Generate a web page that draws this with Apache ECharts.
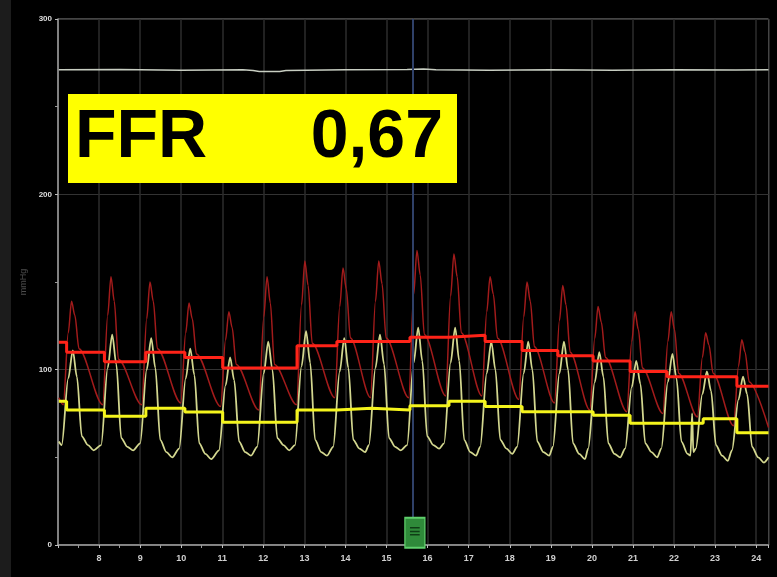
<!DOCTYPE html>
<html>
<head>
<meta charset="utf-8">
<script src="https://cdn.jsdelivr.net/npm/echarts/dist/echarts.min.js"></script>
<style>
  html, body { margin: 0; padding: 0; background: #000; }
  #chart { width: 777px; height: 577px; }
</style>
</head>
<body>
<div id="chart"></div>
<script>
// Pressure recording (mmHg over seconds): aortic (Pa) and distal (Pd) traces,
// their beat-by-beat means, and a flat reference channel at the top.

const yTicks = [0, 100, 200, 300];
const ffrLabel = 'FFR';
const ffrValue = '0,67';
const cursorTime = 15.64;
const eventTime = 15.69;

// Aortic pressure trace (red): per beat onset, upstroke, peak, early fall, dicrotic level
const aorticTime = [7.02,
  7.13, 7.25, 7.33, 7.41, 7.51,
  8.09, 8.21, 8.29, 8.37, 8.47,
  9.04, 9.16, 9.24, 9.32, 9.42,
  9.99, 10.11, 10.19, 10.27, 10.37,
  10.96, 11.08, 11.16, 11.24, 11.34,
  11.89, 12.01, 12.09, 12.17, 12.27,
  12.81, 12.93, 13.01, 13.09, 13.19,
  13.74, 13.86, 13.94, 14.02, 14.12,
  14.61, 14.73, 14.81, 14.89, 14.99,
  15.54, 15.66, 15.74, 15.82, 15.92,
  16.44, 16.56, 16.64, 16.72, 16.82,
  17.32, 17.44, 17.52, 17.60, 17.70,
  18.22, 18.34, 18.42, 18.50, 18.60,
  19.09, 19.21, 19.29, 19.37, 19.47,
  19.95, 20.07, 20.15, 20.23, 20.33,
  20.85, 20.97, 21.05, 21.13, 21.23,
  21.73, 21.85, 21.93, 22.01, 22.11,
  22.57, 22.69, 22.77, 22.85, 22.95,
  23.45, 23.57, 23.65, 23.73, 23.83,
  24.30];
const aorticValue = [84,
  80, 121, 139, 131, 112,
  80, 131, 153, 139, 106,
  80, 129, 150, 139, 112,
  81, 121, 138, 129, 109,
  79, 117, 133, 124, 103,
  77, 130, 153, 138, 103,
  80, 137, 162, 148, 115,
  84, 136, 158, 146, 118,
  84, 139, 162, 149, 118,
  84, 143, 168, 154, 120,
  85, 142, 166, 153, 121,
  85, 133, 153, 143, 118,
  83, 130, 150, 139, 113,
  81, 128, 148, 137, 110,
  77, 118, 136, 127, 107,
  76, 116, 133, 123, 101,
  75, 116, 133, 123, 98,
  73, 107, 121, 114, 98,
  68, 102, 117, 110, 93,
  67];

// Distal pressure trace (pale yellow): per beat onset, upstroke, peak, fall, foot, trough
const distalTime = [7.02,
  7.09, 7.25, 7.36, 7.46, 7.58, 7.73, 7.87,
  8.05, 8.21, 8.32, 8.42, 8.54, 8.69, 8.83,
  9.00, 9.16, 9.27, 9.37, 9.49, 9.64, 9.78,
  9.95, 10.11, 10.22, 10.32, 10.44, 10.59, 10.73,
  10.92, 11.08, 11.19, 11.29, 11.41, 11.56, 11.70,
  11.85, 12.01, 12.12, 12.22, 12.34, 12.49, 12.63,
  12.77, 12.93, 13.04, 13.14, 13.26, 13.41, 13.55,
  13.70, 13.86, 13.97, 14.07, 14.19, 14.34, 14.48,
  14.57, 14.73, 14.84, 14.94, 15.06, 15.21, 15.35,
  15.50, 15.66, 15.77, 15.87, 15.99, 16.14, 16.28,
  16.40, 16.56, 16.67, 16.77, 16.89, 17.04, 17.18,
  17.28, 17.44, 17.55, 17.65, 17.77, 17.92, 18.06,
  18.18, 18.34, 18.45, 18.55, 18.67, 18.82, 18.96,
  19.05, 19.21, 19.32, 19.42, 19.54, 19.69, 19.83,
  19.91, 20.07, 20.18, 20.28, 20.40, 20.55, 20.69,
  20.81, 20.97, 21.08, 21.18, 21.30, 21.45, 21.59,
  21.69, 21.85, 21.96, 22.06, 22.18, 22.33, 22.40, 22.44, 22.47,
  22.53, 22.69, 22.80, 22.90, 23.02, 23.17, 23.31,
  23.41, 23.57, 23.68, 23.78, 23.90, 24.05, 24.19,
  24.30];
const distalValue = [59,
  57, 95, 111, 96, 62, 57, 54,
  57, 101, 120, 103, 61, 56, 54,
  58, 100, 118, 101, 60, 53, 50,
  55, 95, 112, 97, 58, 52, 49,
  54, 91, 107, 94, 59, 53, 51,
  56, 98, 116, 100, 61, 57, 54,
  57, 102, 122, 104, 60, 53, 51,
  56, 99, 118, 101, 60, 55, 53,
  57, 101, 120, 103, 61, 56, 54,
  57, 104, 124, 105, 62, 57, 55,
  58, 104, 124, 105, 60, 53, 51,
  56, 98, 116, 100, 60, 55, 52,
  56, 98, 116, 100, 59, 53, 51,
  56, 98, 116, 100, 58, 52, 49,
  55, 93, 110, 96, 58, 52, 50,
  55, 90, 105, 92, 58, 53, 50,
  55, 93, 109, 95, 59, 52, 51, 75, 53,
  55, 86, 99, 88, 57, 51, 48,
  54, 83, 96, 86, 56, 50, 47,
  50];

// Beat-by-beat mean pressures (each value holds from its time to the next)
const meanTime = [7.02, 7.21, 8.13, 9.14, 10.09, 11.01, 11.92, 12.82, 13.79, 14.64, 15.57,
  16.52, 17.40, 18.30, 19.17, 20.03, 20.93, 21.83, 22.71, 23.53, 24.30];
const aorticMean = [115.6, 110, 104.5, 110, 107, 101, 101, 113.6, 116, 116, 118.5,
  119.6, 116, 111, 108, 105, 99, 96, 96, 90.5, 90.5];
const distalMean = [82, 77, 73.5, 78, 75.8, 70, 70, 77, 78, 77, 79.4,
  82, 79, 76, 76, 74, 69.5, 69.5, 72, 64, 64];

// Reference channel near the top
const refTime = [7.02, 8.5, 10.0, 11.5, 11.75, 11.9, 12.4, 12.55, 14.0, 15.5, 15.9, 16.2,
  17.5, 19.0, 20.5, 22.0, 23.5, 24.3];
const refValue = [271, 271.2, 270.8, 271, 270.6, 270.0, 270.1, 270.6, 271, 271.2, 271.5, 271,
  270.7, 271, 270.8, 271, 270.9, 271];

const zip = (a, b) => a.map((v, i) => [v, b[i]]);

const chart = echarts.init(document.getElementById('chart'), null, { renderer: 'canvas' });

chart.setOption({
  backgroundColor: '#000',
  animation: false,
  grid: {
    left: 58, right: 8.5, top: 19, bottom: 32,
    show: true, borderColor: '#8a8a8a', borderWidth: 1
  },
  xAxis: {
    type: 'value', min: 7, max: 24.3, interval: 1,
    axisLine: { show: true, lineStyle: { color: '#9c9c9c', width: 1.5 } },
    axisTick: { show: true, length: 3, lineStyle: { color: '#bdbdbd' } },
    minorTick: { show: true, splitNumber: 2, length: 3, lineStyle: { color: '#9a9a9a' } },
    axisLabel: {
      showMinLabel: false, color: '#d0d0d0', fontSize: 9, fontWeight: 'bold',
      fontFamily: 'Liberation Sans', margin: 9,
      formatter: v => (Number.isInteger(v) ? String(v) : '')
    },
    splitLine: { show: true, lineStyle: { color: '#2c2c2c', width: 1.5 } }
  },
  yAxis: {
    type: 'value', min: yTicks[0], max: yTicks[yTicks.length - 1], interval: 100,
    name: 'mmHg', nameLocation: 'middle', nameGap: 30, nameRotate: 90,
    nameTextStyle: { color: '#4d4d4d', fontSize: 9, fontFamily: 'Liberation Sans' },
    axisLine: { show: true, lineStyle: { color: '#9c9c9c', width: 1.5 } },
    axisTick: { show: true, length: 3, lineStyle: { color: '#bdbdbd' } },
    minorTick: { show: true, splitNumber: 2, length: 3, lineStyle: { color: '#9a9a9a' } },
    axisLabel: { color: '#dedede', fontSize: 8, fontWeight: 'bold', fontFamily: 'Liberation Sans', margin: 6 },
    splitLine: { show: true, lineStyle: { color: '#333' } }
  },
  series: [
    {
      name: 'ref', type: 'line', data: zip(refTime, refValue),
      symbol: 'none', lineStyle: { color: '#c8cec2', width: 1.5 },
      markLine: {
        silent: true, symbol: 'none', label: { show: false },
        lineStyle: { color: '#2f4068', width: 2, type: 'solid' },
        data: [{ xAxis: cursorTime }]
      },
      markPoint: {
        silent: true,
        data: [{
          coord: [eventTime, 7], symbol: 'rect', symbolSize: [20, 30],
          itemStyle: { color: '#2f8a3a', borderColor: '#5fd06c', borderWidth: 1.5 },
          label: { show: true, formatter: '\u2261', color: '#0f3d16', fontSize: 20, fontWeight: 'bold' }
        }]
      },
      z: 2
    },
    {
      name: 'Pa', type: 'line', data: zip(aorticTime, aorticValue),
      symbol: 'none', smooth: 0.3, smoothMonotone: 'x',
      lineStyle: { color: '#a21b1b', width: 1.5 }, z: 3
    },
    {
      name: 'Pd', type: 'line', data: zip(distalTime, distalValue),
      symbol: 'none', smooth: 0.3, smoothMonotone: 'x',
      lineStyle: { color: '#d3d78f', width: 1.8 }, z: 4
    },
    {
      name: 'Pa mean', type: 'line', data: zip(meanTime, aorticMean),
      symbol: 'none', step: 'end',
      lineStyle: { color: '#ff2318', width: 3 }, z: 5
    },
    {
      name: 'Pd mean', type: 'line', data: zip(meanTime, distalMean),
      symbol: 'none', step: 'end',
      lineStyle: { color: '#f4f41c', width: 3 }, z: 6
    }
  ],
  graphic: [
    {
      type: 'rect', silent: true, z: -1,
      shape: { x: 0, y: 0, width: 11, height: 577 },
      style: { fill: '#1c1c1c' }
    },
    {
      type: 'rect', silent: true, z: 100, zlevel: 1,
      shape: { x: 68, y: 94, width: 389, height: 89 },
      style: { fill: '#ffff00' }
    },
    {
      type: 'text', silent: true, z: 101, zlevel: 1,
      style: { x: 75, y: 138, text: ffrLabel, font: 'bold 68px "Liberation Sans"', fill: '#000', verticalAlign: 'middle' }
    },
    {
      type: 'text', silent: true, z: 101, zlevel: 1,
      style: { x: 443, y: 138, text: ffrValue, font: 'bold 68px "Liberation Sans"', fill: '#000', align: 'right', verticalAlign: 'middle' }
    }
  ]
});
</script>
</body>
</html>
